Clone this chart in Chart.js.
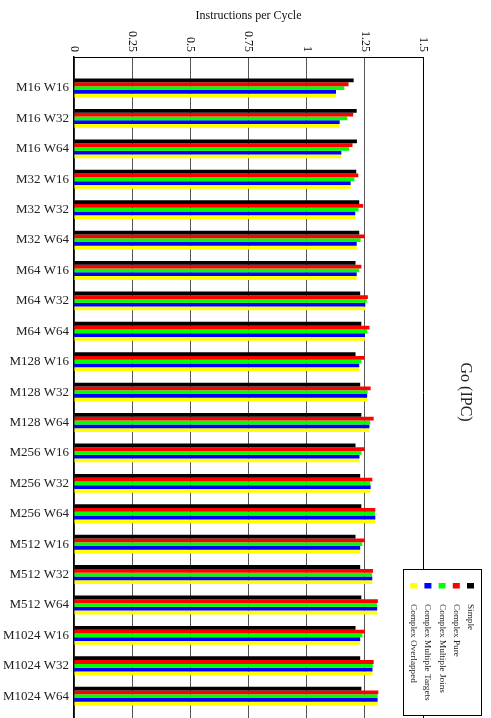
<!DOCTYPE html>
<html>
<head>
<meta charset="utf-8">
<title>Go (IPC)</title>
<script src="https://cdn.jsdelivr.net/npm/chart.js@4/dist/chart.umd.min.js"></script>
<style>
  html, body { margin: 0; padding: 0; background: #fff; overflow: hidden; }
  canvas { display: block; }
</style>
</head>
<body>
<canvas id="ipc" width="491" height="740"></canvas>
<script>
// Machine configurations (memory / window sizes)
const configs = [
  'M16 W16', 'M16 W32', 'M16 W64',
  'M32 W16', 'M32 W32', 'M32 W64',
  'M64 W16', 'M64 W32', 'M64 W64',
  'M128 W16', 'M128 W32', 'M128 W64',
  'M256 W16', 'M256 W32', 'M256 W64',
  'M512 W16', 'M512 W32', 'M512 W64',
  'M1024 W16', 'M1024 W32', 'M1024 W64'
];

const seriesNames = ['Simple', 'Complex Pure', 'Complex Multiple Joins', 'Complex Multiple Targets', 'Complex Overlapped'];
const seriesColors = ['#000000', '#ff0000', '#00ff00', '#0000ff', '#ffff00'];

// Instructions per cycle for each scheme
const simple     = [1.202, 1.215, 1.216, 1.213, 1.226, 1.226, 1.210, 1.230, 1.235, 1.210, 1.230, 1.235, 1.210, 1.230, 1.235, 1.210, 1.230, 1.235, 1.210, 1.230, 1.235];
const pure       = [1.180, 1.200, 1.197, 1.222, 1.243, 1.250, 1.235, 1.263, 1.270, 1.248, 1.275, 1.288, 1.248, 1.282, 1.295, 1.250, 1.285, 1.306, 1.250, 1.288, 1.308];
const joins      = [1.162, 1.175, 1.183, 1.205, 1.223, 1.232, 1.226, 1.258, 1.260, 1.235, 1.262, 1.273, 1.236, 1.273, 1.293, 1.239, 1.281, 1.302, 1.239, 1.284, 1.305];
const targets    = [1.126, 1.142, 1.149, 1.189, 1.209, 1.215, 1.215, 1.252, 1.250, 1.226, 1.260, 1.270, 1.227, 1.275, 1.295, 1.230, 1.282, 1.303, 1.230, 1.283, 1.305];
const overlapped = [1.126, 1.140, 1.149, 1.189, 1.209, 1.215, 1.215, 1.252, 1.250, 1.226, 1.260, 1.269, 1.227, 1.275, 1.295, 1.230, 1.282, 1.303, 1.230, 1.283, 1.305];

// IPC axis tick labels
const ipcTicks = [0, 0.25, 0.5, 0.75, 1, 1.25, 1.5];
const ipcTickLabels = ['0', '0.25', '0.5', '0.75', '1', '1.25', '1.5'];

const SERIF = "'Liberation Serif', 'DejaVu Serif', 'Times New Roman', serif";

const allSeries = [simple, pure, joins, targets, overlapped];
const datasets = allSeries.map((vals, s) => ({
  label: seriesNames[s],
  data: vals.map((v, i) => ({ x: v, y: i })),
  backgroundColor: seriesColors[s],
  borderWidth: 0,
  barPercentage: 1.0,
  categoryPercentage: 0.62
}));

// Rotated IPC tick labels above the plot, and the rotated key box
const decorations = {
  id: 'decorations',
  afterDraw(chart) {
    const ctx = chart.ctx;
    const xs = chart.scales.x;
    ctx.save();
    ctx.fillStyle = '#111';
    ctx.font = '12px ' + SERIF;
    ctx.textAlign = 'right';
    ctx.textBaseline = 'middle';
    ipcTicks.forEach((v, i) => {
      const px = xs.getPixelForValue(v);
      ctx.save();
      ctx.translate(px, 52);
      ctx.rotate(Math.PI / 2);
      ctx.fillText(ipcTickLabels[i], 0, 0);
      ctx.restore();
    });
    ctx.restore();

    // key box
    const bx = 403.5, by = 569.5, bw = 78, bh = 146;
    ctx.save();
    ctx.fillStyle = '#fff';
    ctx.fillRect(bx, by, bw, bh);
    ctx.strokeStyle = '#000';
    ctx.lineWidth = 1;
    ctx.strokeRect(bx, by, bw, bh);
    ctx.font = '9.2px ' + SERIF;
    ctx.textAlign = 'left';
    ctx.textBaseline = 'middle';
    seriesNames.forEach((name, i) => {
      const cx = 470.5 - i * 14.2;
      ctx.fillStyle = seriesColors[i];
      ctx.fillRect(cx - 3.5, 583, 7, 5.5);
      ctx.fillStyle = '#222';
      ctx.save();
      ctx.translate(cx, 604);
      ctx.rotate(Math.PI / 2);
      ctx.fillText(name, 0, 0);
      ctx.restore();
    });
    ctx.restore();
  }
};

new Chart(document.getElementById('ipc'), {
  type: 'bar',
  data: { datasets },
  plugins: [decorations],
  options: {
    indexAxis: 'y',
    responsive: false,
    devicePixelRatio: 1,
    animation: false,
    layout: { padding: { top: 0, left: 0, right: 16.4, bottom: 12 } },
    plugins: {
      legend: { display: false },
      tooltip: { enabled: false },
      title: {
        display: true,
        text: 'Go (IPC)',
        position: 'right',
        fullSize: false,
        color: '#222',
        font: { family: SERIF, size: 16, weight: 'normal' },
        padding: { top: 0, bottom: 32.4 }
      }
    },
    scales: {
      x: {
        type: 'linear',
        position: 'top',
        min: 0,
        max: 1.5,
        z: 1,
        afterBuildTicks(scale) {
          scale.ticks = ipcTicks.map(v => ({ value: v }));
        },
        afterFit(scale) { scale.height = 57; },
        ticks: { display: false },
        grid: {
          drawTicks: false,
          lineWidth: 1,
          color: (c) => (c.tick && c.tick.value === 1.5) ? '#000' : '#555'
        },
        border: { display: true, color: '#000', width: 1 },
        title: {
          display: true,
          text: 'Instructions per Cycle',
          color: '#111',
          font: { family: SERIF, size: 12 },
          padding: { top: 9, bottom: 33.6 }
        }
      },
      y: {
        type: 'linear',
        reverse: true,
        offset: false,
        min: -1.02,
        max: 21.02,
        z: 1,
        afterBuildTicks(scale) {
          scale.ticks = configs.map((_, i) => ({ value: i }));
        },
        afterFit(scale) { scale.width = 74; },
        ticks: {
          autoSkip: false,
          padding: 5,
          color: '#222',
          font: { family: SERIF, size: 13 },
          callback: (v) => configs[v] !== undefined ? configs[v] : ''
        },
        grid: { display: false, drawTicks: false, offset: false },
        border: { display: true, color: '#000', width: 1.5 }
      }
    }
  }
});
</script>
</body>
</html>
